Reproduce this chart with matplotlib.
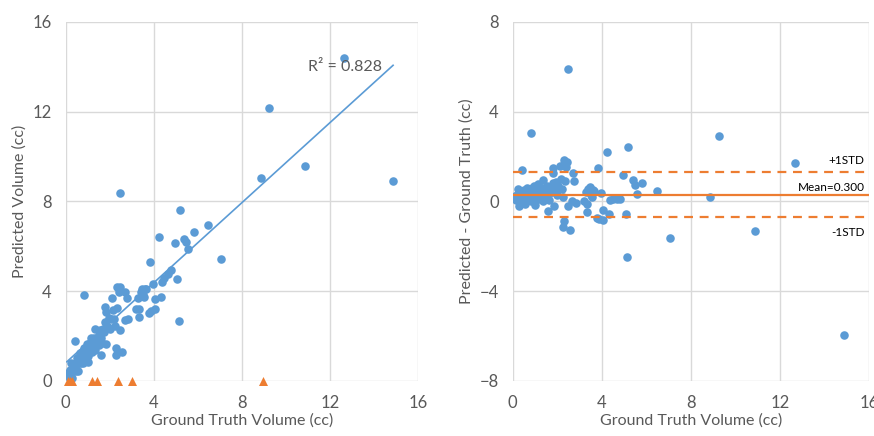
import numpy as np
import matplotlib
matplotlib.use("Agg")
import matplotlib.pyplot as plt

plt.rcParams['font.family'] = ['Lato', 'DejaVu Sans']

# ground truth vs predicted volume (cc)
gt = [0.05, 0.1, 0.15, 0.2, 0.25, 0.3, 0.3, 0.35, 0.4, 0.4, 0.45, 0.5, 0.5, 0.55, 0.6, 0.6,
      0.65, 0.7, 0.7, 0.75, 0.8, 0.8, 0.81, 0.85, 0.9, 0.9, 0.95, 1.0, 1.0, 1.05, 1.1, 1.1,
      1.15, 1.2, 1.2, 1.25, 1.3, 1.35, 1.35, 1.4, 1.45, 1.5, 1.5, 1.55, 1.58, 1.6, 1.65, 1.7,
      1.75, 1.79, 1.8, 1.82, 1.85, 1.9, 1.95, 2.0, 2.05, 2.12, 2.15, 2.2, 2.25, 2.27, 2.3, 2.32,
      2.35, 2.4, 2.45, 2.47, 2.47, 2.57, 2.68, 2.69, 2.77, 2.83, 3.21, 3.32, 3.35, 3.3, 3.4,
      3.45, 3.5, 3.55, 3.6, 3.65, 3.77, 3.83, 3.89, 3.95, 4.04, 4.04, 4.25, 4.33, 4.36, 4.48,
      4.66, 4.8, 4.96, 5.07, 5.14, 5.19, 5.38, 5.47, 5.56, 5.81, 6.46, 7.06, 8.85, 9.25, 10.87,
      12.65, 14.87]
pred = [0.20, 0.35, 0.20, 0.50, 0.80, 0.10, 0.40, 0.75, 0.60, 1.78, 0.45, 0.80, 1.00, 0.45, 0.80, 1.05,
        1.25, 0.80, 1.05, 1.30, 0.80, 1.10, 3.84, 1.45, 1.10, 1.35, 1.65, 1.10, 0.85, 1.45, 1.70, 1.35,
        1.90, 1.30, 1.70, 1.55, 1.90, 1.35, 2.30, 1.80, 1.65, 2.05, 1.60, 2.25, 1.16, 1.90, 1.70, 2.30,
        2.15, 3.29, 2.60, 3.07, 1.65, 2.40, 2.80, 2.30, 2.75, 3.71, 3.15, 2.75, 2.45, 1.14, 1.44, 4.16,
        3.25, 3.95, 4.20, 8.35, 2.26, 1.29, 2.71, 3.94, 3.68, 2.77, 3.21, 3.20, 2.86, 3.70, 3.95,
        4.10, 3.80, 3.75, 4.10, 4.10, 3.01, 5.30, 3.09, 4.30, 3.65, 3.21, 6.43, 3.75, 4.41, 4.58,
        4.76, 4.92, 6.12, 4.52, 2.67, 7.61, 6.33, 6.18, 5.87, 6.63, 6.94, 5.41, 9.04, 12.18, 9.56,
        14.37, 8.90]
# cases where nothing was predicted (orange triangles at 0)
missed_gt = [0.12, 0.2, 0.27, 1.18, 1.43, 2.36, 3.0, 8.98]

# trendline and Bland-Altman stats as shown
trend_slope = 0.892
trend_intercept = 0.80
r2_text = "R² = 0.828"
mean_diff = 0.300
std_diff = 1.0

gt = np.array(gt)
pred = np.array(pred)
diff = pred - gt

blue = '#5B9BD5'
orange = '#ED7D31'
grid_c = '#D9D9D9'
text_c = '#595959'

fig = plt.figure(figsize=(8.74, 4.36), dpi=100)
ax1 = fig.add_axes([0.0752, 0.1268, 0.403, 0.823])
ax2 = fig.add_axes([0.5866, 0.1268, 0.408, 0.823])


def style(ax, ylim, yticks):
    ax.set_xlim(0, 16)
    ax.set_ylim(*ylim)
    ax.set_xticks([0, 4, 8, 12, 16])
    ax.set_yticks(yticks)
    ax.grid(True, color=grid_c, linewidth=1)
    ax.set_axisbelow(True)
    for s in ax.spines.values():
        s.set_visible(False)
    ax.tick_params(length=0, pad=10, labelsize=12, labelcolor=text_c)
    ax.set_xlabel('Ground Truth Volume (cc)', fontsize=11.5, color=text_c, labelpad=2)


# left: predicted vs ground truth
style(ax1, (0, 16), [0, 4, 8, 12, 16])
ax1.scatter(gt, pred, s=38, color=blue, linewidths=0, zorder=3)
ax1.scatter(missed_gt, np.zeros(len(missed_gt)), marker='^', s=42, color=orange,
            linewidths=0, zorder=4, clip_on=False)
xs = np.array([gt.min(), gt.max()])
ax1.plot(xs, trend_slope * xs + trend_intercept, color=blue, linewidth=1.2, zorder=5)
ax1.text(14.36, 14.0, r2_text, ha='right', va='center', fontsize=11.5, color=text_c, zorder=6)
ax1.set_ylabel('Predicted Volume (cc)', fontsize=11.5, color=text_c, labelpad=4)

# right: difference plot
style(ax2, (-8, 8), [-8, -4, 0, 4, 8])
ax2.scatter(gt, diff, s=38, color=blue, linewidths=0, zorder=3)
ax2.axhline(mean_diff, color=orange, linewidth=1.6, zorder=5)
ax2.axhline(mean_diff + std_diff, color=orange, linewidth=1.6, linestyle=(0, (4, 3)), zorder=5)
ax2.axhline(mean_diff - std_diff, color=orange, linewidth=1.6, linestyle=(0, (4, 3)), zorder=5)
ax2.text(15.8, 1.84, '+1STD', ha='right', va='center', fontsize=8.5, color='black')
ax2.text(15.8, 0.63, 'Mean=0.300', ha='right', va='center', fontsize=8.5, color='black')
ax2.text(15.8, -1.37, '-1STD', ha='right', va='center', fontsize=8.5, color='black')
ax2.set_ylabel('Predicted - Ground Truth (cc)', fontsize=11.5, color=text_c, labelpad=4)

fig.savefig('out.png', dpi=100)
